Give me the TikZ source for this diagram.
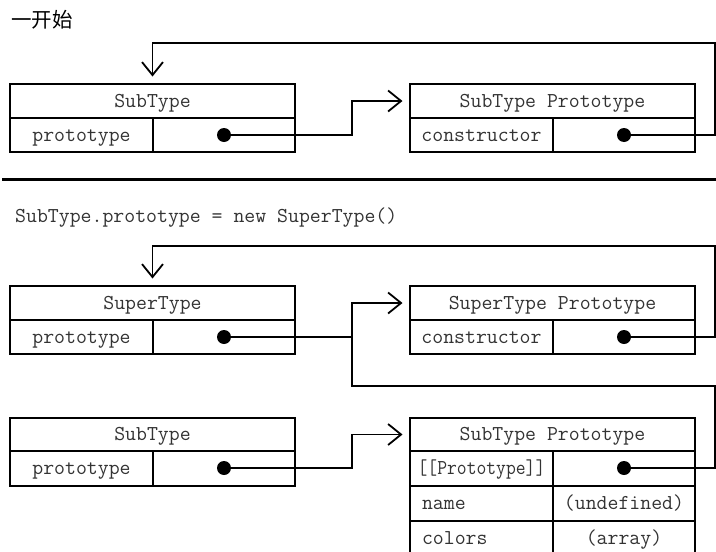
\documentclass[tikz,border=0pt]{standalone}
\usepackage{fontspec}
\newfontfamily\cjk{Noto Sans CJK SC}
\usetikzlibrary{arrows.meta}
\newcommand{\codefnt}{\ttfamily\fontsize{21.2}{24}\selectfont}
\begin{document}
\begin{tikzpicture}[x=1pt,y=-1pt,
  cell/.style={draw, line width=1.8pt, inner sep=0pt, outer sep=0pt, font=\codefnt, text=black!80,
    text height=15pt, text depth=3pt, anchor=north west, minimum height=34pt},
  wide/.style={minimum width=285pt},
  lcell/.style={minimum width=143pt},
  rcell/.style={minimum width=142pt},
  dot/.style={circle, fill=black, inner sep=0pt, minimum size=14pt},
  conn/.style={line width=1.8pt},
  arr/.style={-{Straight Barb[length=13pt,width=21pt]}, shorten >=7.5pt},
  plain/.style={font=\codefnt, text=black!80, inner sep=0pt}]
\useasboundingbox (0,0) rectangle (716,552);

% ---- top section ----
\node[anchor=west, inner sep=0pt, font=\cjk\fontsize{20.5}{22}\selectfont] (title) at (11,20) {一开始};

\node[cell, wide]  (st1h) at (10,84)  {SubType};
\node[cell, lcell] (st1l) at (10,118) {prototype};
\node[cell, rcell] (st1r) at (153,118) {};
\node[dot] (st1d) at (224,135) {};

\node[cell, wide]  (sp1h) at (410,84)  {SubType Prototype};
\node[cell, lcell] (sp1l) at (410,118) {constructor};
\node[cell, rcell] (sp1r) at (553,118) {};
\node[dot] (sp1d) at (624,135) {};

\draw[conn, arr] (st1d) -| (352,101) -- (sp1h.west);
\draw[conn, arr] (sp1d) -| (715,43) -| (st1h.north);

% separator
\draw[line width=3.5pt] (2,179.5) -- (716,179.5);

% ---- middle section ----
\node[plain, anchor=base west] (code) at (15,222) {SubType.prototype = new SuperType()};

\node[cell, wide]  (suh) at (10,286) {SuperType};
\node[cell, lcell] (sul) at (10,320) {prototype};
\node[cell, rcell] (sur) at (153,320) {};
\node[dot] (sud) at (224,337) {};

\node[cell, wide]  (sph) at (410,286) {SuperType Prototype};
\node[cell, lcell] (spl) at (410,320) {constructor};
\node[cell, rcell] (spr) at (553,320) {};
\node[dot] (spd) at (624,337) {};

\draw[conn, arr] (sud) -| (352,303) -- (sph.west);
\draw[conn, arr] (spd) -| (715,246) -| (suh.north);

% ---- bottom section ----
\node[cell, wide, minimum height=33pt]  (st2h) at (10,418) {SubType};
\node[cell, lcell, minimum height=35pt] (st2l) at (10,451) {prototype};
\node[cell, rcell, minimum height=35pt] (st2r) at (153,451) {};
\node[dot] (st2d) at (224,468) {};

\node[cell, wide, minimum height=33pt]  (sp2h) at (410,418) {SubType Prototype};
\node[cell, lcell, minimum height=35pt] (sp2l) at (410,451) {\scalebox{0.9}[1]{[[Prototype]]}};
\node[cell, rcell, minimum height=35pt] (sp2r) at (553,451) {};
\node[dot] (sp2d) at (624,468) {};
\node[cell, lcell, minimum height=35pt, align=left, text width=119pt] (sp2nl) at (410,486) {name};
\node[cell, rcell, minimum height=35pt] (sp2nr) at (553,486) {(undefined)};
\node[cell, lcell, minimum height=35pt, align=left, text width=119pt] (sp2cl) at (410,521) {colors};
\node[cell, rcell, minimum height=35pt] (sp2cr) at (553,521) {(array)};

\draw[conn, arr] (st2d) -| (352,434.5) -- (sp2h.west);
\draw[conn] (sp2d) -| (715,386) -| (352,337);
\end{tikzpicture}
\end{document}
